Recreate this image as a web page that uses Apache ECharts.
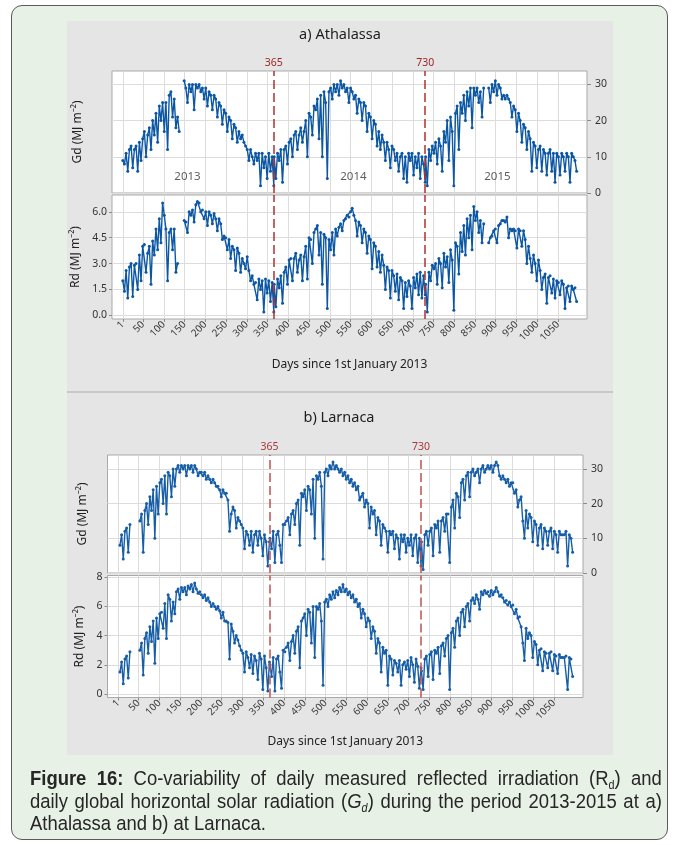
<!DOCTYPE html>
<html><head><meta charset="utf-8">
<script src="https://cdn.jsdelivr.net/npm/echarts@6/dist/echarts.min.js"></script>
<style>
html,body{margin:0;padding:0;background:#fff;width:675px;height:845px;overflow:hidden;}
#frame{position:absolute;left:11px;top:5px;width:655px;height:833px;border:1.5px solid #5a5a5a;border-radius:11px;background:#e8f1e6;}
.panel{position:absolute;left:67px;width:546px;background:#e5e5e5;}
#sep{position:absolute;left:67px;width:546px;top:391px;height:2px;background:#c8c8c8;}
#chart{position:absolute;left:0;top:0;width:675px;height:845px;}
#cap{position:absolute;left:30px;top:767px;width:702px;transform:scaleX(0.9);transform-origin:0 0;font-family:'Liberation Sans',Arial,sans-serif;font-size:20.5px;line-height:22.5px;color:#262626;}
#cap div{white-space:nowrap;}
#cap .j{text-align:justify;text-align-last:justify;}
sub{font-size:12px;vertical-align:-4px;line-height:0;}
</style></head>
<body>
<div id="frame"></div>
<div class="panel" style="top:21px;height:370px;"></div>
<div id="sep"></div>
<div class="panel" style="top:393px;height:362px;"></div>
<div id="chart"></div>
<div id="cap">
<div class="j"><b>Figure 16:</b> Co-variability of daily measured reflected irradiation (R<sub>d</sub>) and</div>
<div class="j">daily global horizontal solar radiation (<i>G<sub>d</sub></i>) during the period 2013-2015 at a)</div>
<div>Athalassa and b) at Larnaca.</div>
</div>
<script>
// ---- data: values every 4 days (day = 365*yearIndex + 1 + 4*i) ----
const athGd2013 = [9,8,11,6,12,13,7,12,13,6, 14,9,15,17,10,16,18,12,20,16, 22,14,24,20,25,17,25,12,27,28, 21,26,18,21,17,null,null,31,29,25, 30,28,30,23,30,29,30,28,29,26, 29,24,28,27,23,27,26,21,25,24, 19,23,22,17,21,20,15,19,18,14, 17,15,16,14,13,12,9,12,10,8, 11,9,11,2,11,7,10,4,11,6, 10,2];
const athGd2014 = [10,4,11,9,12,3,12,13,8,14, 15,10,16,17,12,16,18,14,17,20, 10,22,21,16,24,23,26,15,27,10, 28,25,4,28,29,26,30,28,30,27, 31,29,30,28,29,25,29,28,26,27, 22,26,25,20,25,24,17,22,21,15, 20,19,13,17,12,16,14,9,14,12, 7,13,12,9,11,6,10,11,4,10, 3,11,9,11,5,10,7,11,4,10, 8,3];
const athGd2015 = [10,2,12,9,13,11,14,8,15,13, 6,17,14,20,9,21,17,2,22,24, 12,25,22,27,20,28,24,29,18,29, 27,29,25,28,21,29,null,null,29,25, 30,28,31,27,30,29,26,27,26,27, 26,25,21,24,23,17,22,20,14,19, 18,12,17,15,6,14,13,7,12,13, 6,12,11,5,11,12,6,11,3,11, 10,5,11,10,6,11,10,3,11,10, 9,6];
const athRd2013 = [2.0,1.4,2.6,1.0,2.8,3.0,1.1,2.9,3.0,1.5, 3.5,2.0,4.0,4.1,2.5,3.6,4.0,1.8,4.3,3.5, 5.0,3.8,5.6,4.2,6.5,5.8,5.0,2.0,4.8,5.0, 3.8,5.0,2.5,3.0,null,null,null,5.5,5.4,4.8, 6.0,5.8,6.1,5.4,6.4,6.6,6.5,6.0,6.1,5.6, 6.0,5.2,6.0,5.8,5.3,5.9,5.6,4.9,5.6,5.3, 4.4,4.6,4.5,3.8,4.4,3.3,4.0,3.8,2.6,3.9, 3.6,2.5,3.3,3.0,2.7,3.4,2.6,2.0,2.3,1.8, 1.9,0.9,2.1,1.5,2.0,0.2,2.1,1.3,2.0,0.8, 1.9,0.2];
const athRd2014 = [1.8,0.5,2.1,1.6,2.3,0.7,2.5,2.8,1.8,3.2, 3.3,2.0,3.3,3.6,2.5,3.2,3.5,2.0,3.4,4.0, 2.1,4.5,4.4,3.0,4.8,5.0,5.2,3.5,4.8,1.8, 4.7,4.5,0.4,4.4,3.8,4.8,3.5,5.0,4.6,5.1, 5.3,4.9,5.5,5.6,5.8,5.7,6.0,6.2,5.8,5.5, 4.6,5.4,5.2,4.2,5.0,4.8,3.6,4.6,4.4,2.7, 4.2,4.0,2.8,3.7,2.5,3.5,2.9,1.5,2.8,2.6, 1.0,2.6,2.3,1.4,2.4,0.9,2.2,2.0,0.4,1.9, 1.1,2.0,1.7,0.4,2.2,1.6,2.4,1.2,2.5,1.0, 2.3,1.2];
const athRd2015 = [1.8,0.2,2.5,2.0,2.9,2.7,3.0,1.8,3.3,3.0, 1.6,3.6,2.8,3.4,1.9,3.8,3.2,0.3,4.2,4.0, 2.4,4.8,3.7,5.2,3.5,5.6,4.5,5.8,3.8,6.3, 5.5,6.0,4.8,5.5,4.2,5.3,null,null,4.2,4.5, 4.6,4.9,5.0,4.2,5.2,5.3,5.5,5.5,5.4,5.7, 4.5,5.0,4.9,5.0,4.9,3.9,5.0,4.9,4.0,4.9, 4.4,3.0,4.0,3.3,2.5,3.5,3.0,2.0,3.2,2.6, 1.5,2.2,2.4,0.7,2.2,2.3,1.3,2.1,1.0,2.0, 1.9,1.2,2.0,1.8,0.4,1.6,1.7,0.8,1.7,1.5, 1.6,0.8];

const larGd2013 = [null,8,11,4,12,13,6,14,null,null, null,null,null,15,17,6,18,20,14,22, 18,24,10,25,17,26,27,20,28,17, 29,28,22,30,25,30,31,29,31,30, 31,28,31,30,31,29,31,30,28,29, 29,28,29,27,28,27,26,27,26,25, 25,24,22,24,23,23,21,12,17,19, 18,13,16,15,14,13,7,12,11,8, 12,6,11,12,8,12,10,5,11,9, 2,9];
const larGd2014 = [10,7,12,3,11,12,8,3,14,14, 15,16,11,17,18,14,20,21,8,23, 22,24,18,25,24,17,27,10,28,27, 29,25,4,29,30,28,31,30,32,30, 31,30,29,30,28,29,27,28,26,27, 25,26,24,25,21,22,23,19,21,20, 13,19,17,18,11,16,15,8,14,13, 12,6,12,11,12,7,11,10,4,11, 9,11,6,10,8,11,5,10,11,3, 10,2];
const larGd2015 = [9,1,11,12,8,12,13,5,14,13, 15,6,15,16,12,17,17,3,19,21, 13,23,22,16,26,27,21,28,29,22, 29,30,28,29,30,26,30,31,29,30, 31,30,31,29,31,32,31,28,27,28, 27,26,27,25,26,26,23,24,19,21, 22,15,10,18,13,17,16,9,15,14, 8,13,14,7,13,12,8,12,13,7, 12,11,6,12,11,11,11,12,2,11, 10,6];
const larRd2013 = [null,1.5,2.2,0.7,2.4,2.6,1.1,2.9,null,null, null,null,null,3.0,3.5,1.3,3.8,4.2,2.8,4.6, 3.6,5.0,2.1,5.2,3.8,5.5,5.6,4.5,6.2,3.8, 6.8,6.5,5.0,6.3,5.5,7.0,7.2,6.5,7.3,7.0, 7.3,6.8,7.4,7.2,7.5,7.0,7.6,7.2,6.9,7.0, 6.8,6.6,6.8,6.4,6.6,6.3,6.0,6.2,6.0,5.8, 6.0,5.7,5.2,5.6,5.0,5.0,4.9,2.4,4.8,4.3, 3.5,4.0,3.7,3.3,3.0,2.8,1.5,2.9,2.5,1.8, 2.7,1.4,2.6,2.3,1.0,2.8,2.4,0.3,2.6,1.8, 0.2,2.2];
const larRd2014 = [2.0,1.2,2.5,0.2,2.4,2.6,1.5,0.4,3.0,2.9, 3.2,3.5,2.3,3.6,4.0,2.8,4.3,4.6,1.8,5.0, 5.2,5.5,4.0,5.8,5.6,3.5,6.0,2.5,6.0,5.8, 6.2,5.0,0.6,6.3,6.5,6.0,6.8,6.5,7.0,6.6, 7.1,6.8,7.3,7.0,7.5,7.0,7.2,6.8,7.0,6.6, 6.8,6.3,6.5,6.0,6.2,5.2,5.8,5.5,4.6,5.2, 5.0,3.8,4.6,4.3,2.8,3.8,3.5,1.5,3.2,2.8, 3.0,0.6,2.6,2.4,1.3,2.3,2.1,1.5,2.3,0.6, 2.0,2.2,1.7,2.3,1.2,2.5,2.0,0.8,2.4,1.9, 0.4,1.8];
const larRd2015 = [1.6,0.3,2.4,2.6,1.2,2.7,2.9,1.0,3.0,2.8, 3.2,1.4,3.3,3.5,2.6,3.8,4.0,0.3,4.2,4.5, 3.2,5.0,5.2,4.0,5.6,5.8,4.6,6.0,6.2,5.0, 6.4,6.6,6.2,6.8,6.5,5.8,7.0,6.8,7.1,6.9, 7.0,6.7,7.1,6.8,7.0,7.3,7.0,6.7,6.8,6.6, 6.3,6.4,6.1,6.3,6.0,6.1,5.5,5.8,5.2,5.3, 4.6,3.5,2.3,4.5,3.8,4.2,4.0,2.5,3.6,3.4, 2.0,3.0,3.1,1.6,2.9,2.8,1.8,2.8,2.9,1.6, 2.7,2.6,1.4,2.7,2.5,2.5,2.5,2.6,0.3,2.5, 2.4,1.2];

// ---- tick labels ----
const xTicks = [1,50,100,150,200,250,300,350,400,450,500,550,600,650,700,750,800,850,900,950,1000,1050];
const gdTicks = [0,10,20,30];
const rdTicksA = [0,1.5,3,4.5,6];
const rdTicksB = [0,2,4,6,8];
const yearLabels = ['2013','2014','2015'];
const markDays = [365,730];

function pairs(years){
  const out=[];
  years.forEach((arr,y)=>arr.forEach((v,i)=>out.push([365*y+1+4*i, v===null?'-':v])));
  return out;
}

const FONT = "'Noto Sans','DejaVu Sans',sans-serif";
const GRID_BORDER = '#a9a9a9';
const SPLIT = '#dcdcdc';

function xAxis(gi, labels, nameGap){
  return {type:'value', gridIndex:gi, min:-25, max:1120,
    axisLine:{show:false, onZero:false},
    axisTick:{show:labels, customValues:xTicks, length:3, lineStyle:{color:'#8c8c8c'}},
    axisLabel:{show:labels, customValues:xTicks, formatter:v=>String(v), rotate:45, margin:4, fontSize:10, color:'#3a3a3a', fontFamily:FONT},
    splitLine:{show:true, lineStyle:{color:SPLIT, width:1}},
    name: labels ? 'Days since 1st January 2013' : '', nameLocation:'middle', nameGap: nameGap||0,
    nameTextStyle:{fontSize:12, color:'#222', fontFamily:FONT}};
}
function gdAxis(gi, max){
  return {type:'value', gridIndex:gi, position:'right', min:0, max:max,
    axisLine:{show:false, onZero:false},
    axisTick:{show:true, customValues:gdTicks, length:4, lineStyle:{color:'#8c8c8c'}},
    axisLabel:{customValues:gdTicks, margin:8, fontSize:10.5, color:'#333', fontFamily:FONT},
    splitLine:{show:true, lineStyle:{color:SPLIT}}};
}
function rdAxis(gi, min, max, ticks, fmt, gap){
  return {type:'value', gridIndex:gi, position:'left', min:min, max:max,
    name:'Rd (MJ m⁻²)', nameLocation:'middle', nameGap:gap, nameRotate:90,
    nameTextStyle:{fontSize:12, color:'#222', fontFamily:FONT},
    axisLine:{show:false, onZero:false},
    axisTick:{show:true, customValues:ticks, length:3, lineStyle:{color:'#8c8c8c'}},
    axisLabel:{customValues:ticks, formatter:fmt, margin:5, fontSize:10.5, color:'#333', fontFamily:FONT},
    splitLine:{show:true, lineStyle:{color:SPLIT}}};
}
function markLine(withLabel, color, labelColor){
  return {symbol:'none', silent:true, animation:false,
    lineStyle:{color:color, type:[9,4], width:1.5},
    label:{show:withLabel, position:'end', formatter:'{c}', color:labelColor, fontSize:10.5, distance:2, fontFamily:FONT},
    data: markDays.map(d=>({xAxis:d}))};
}
function series(xi, yi, data, color, ml){
  return {type:'line', xAxisIndex:xi, yAxisIndex:yi, data:data, symbol:'circle', symbolSize:3, showSymbol:true,
    connectNulls:false, lineStyle:{width:1.4, color:color}, itemStyle:{color:color}, animation:false, z:3, markLine:ml};
}

const BLUE_A = '#0c57a4', BLUE_B = '#175ea8';
const grids = [
  {left:112, width:475, top:71, height:122},
  {left:112, width:475, top:195, height:124},
  {left:107.5, width:475.5, top:455, height:118},
  {left:107.5, width:475.5, top:575.5, height:122}
].map(g=>Object.assign(g,{show:true, backgroundColor:'#fff', borderColor:GRID_BORDER, borderWidth:1}));

const yearX = [157, 557, 904];
const nameStyle = {fontSize:12, fontFamily:FONT, fill:'#222', align:'center', verticalAlign:'middle'};
const option = {
  backgroundColor:'transparent',
  animation:false,
  grid: grids,
  xAxis:[xAxis(0,false), xAxis(1,true,39.5), xAxis(2,false), xAxis(3,true,38.5)],
  yAxis:[
    gdAxis(0, 33.7),
    rdAxis(1,-0.21,6.97,rdTicksA,v=>v.toFixed(1),29),
    gdAxis(2, 34),
    rdAxis(3,-0.24,8.12,rdTicksB,v=>String(v),20)
  ],
  series:[
    series(0,0,pairs([athGd2013,athGd2014,athGd2015]),BLUE_A,markLine(true,'#b3302f','#9b2626')),
    series(1,1,pairs([athRd2013,athRd2014,athRd2015]),BLUE_A,markLine(false,'#b3302f','#9b2626')),
    series(2,2,pairs([larGd2013,larGd2014,larGd2015]),BLUE_B,markLine(true,'#c0504f','#a53a3a')),
    series(3,3,pairs([larRd2013,larRd2014,larRd2015]),BLUE_B,markLine(false,'#c0504f','#a53a3a')),
    {type:'scatter', xAxisIndex:0, yAxisIndex:0, symbolSize:0, silent:true, z:2,
      data: yearLabels.map((t,i)=>({value:[yearX[i],4.4], name:t})),
      label:{show:true, position:'inside', formatter:'{b}', fontSize:11.5, color:'#333', fontFamily:FONT}}
  ],
  graphic:[
    {type:'text', x:340, y:35, style:{text:'a) Athalassa', fontSize:14.5, fontFamily:FONT, fill:'#1e1e1e', align:'center', verticalAlign:'middle'}},
    {type:'text', x:339, y:418, style:{text:'b) Larnaca', fontSize:14.5, fontFamily:FONT, fill:'#1e1e1e', align:'center', verticalAlign:'middle'}},
    {type:'text', x:78, y:132, rotation:Math.PI/2, style:Object.assign({text:'Gd (MJ m⁻²)'}, nameStyle)},
    {type:'text', x:83, y:514, rotation:Math.PI/2, style:Object.assign({text:'Gd (MJ m⁻²)'}, nameStyle)}
  ]
};
const chart = echarts.init(document.getElementById('chart'), null, {renderer:'canvas'});
chart.setOption(option);
</script>
</body></html>
